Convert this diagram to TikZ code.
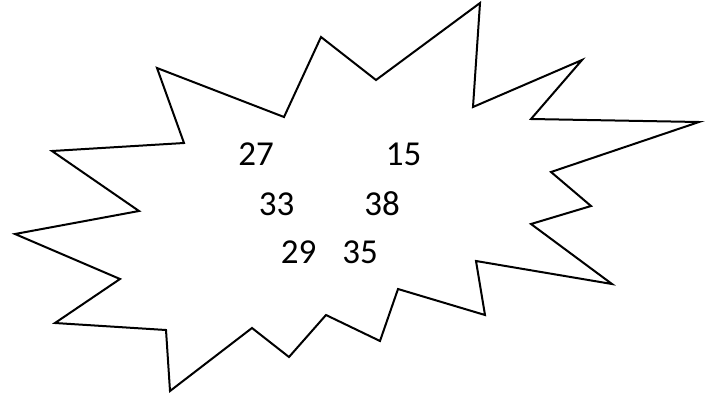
\documentclass[tikz,border=0pt]{standalone}
\usepackage{fontspec}
\setmainfont{Carlito}
\usetikzlibrary{calc}

\begin{document}
\begin{tikzpicture}[x={(0.5pt,0)},y={(0,-0.5pt)}]
        \useasboundingbox (0,0) rectangle (722,402);

        \draw[line width=1pt, line join=miter]
          (52,151)--(139,211)--(15,234)--(120,279)--(55,323)--(166,330)
          --(170,391)--(252,328)--(289,357)--(326,315)--(380,341)--(398,289)
          --(485,315)--(476,261)--(612,284)--(531,224)--(591,206)--(551,172)
          --(699,122)--(531,119)--(582,60)--(473,107)--(480,3)--(376,80)
          --(321,37)--(284,117)--(157,68)--(184,143)--cycle;

        \tikzset{num/.style={anchor=base, inner sep=0pt, font=\fontsize{17.5}{21}\selectfont}}
        \node[num](n27) at (256,165){27};
        \node[num](n15) at (403.5,165){15};
        \node[num](n33) at (276.5,215){33};
        \node[num](n38) at (382,215){38};
        \node[num](n29) at (298.5,263){29};
        \node[num](n35) at (360,263){35};

      \end{tikzpicture}
\end{document}
